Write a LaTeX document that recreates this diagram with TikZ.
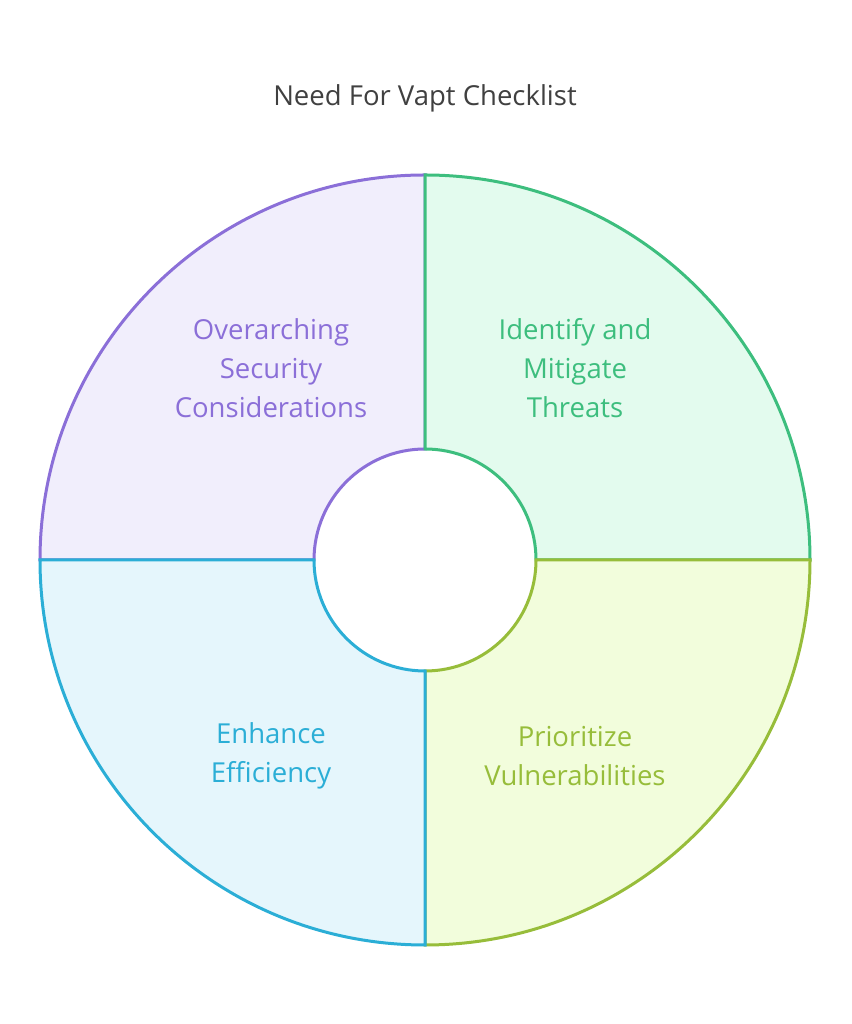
\documentclass[tikz,border=0pt]{standalone}
\usepackage{fontspec}
\setmainfont{Open Sans}
\definecolor{pur}{HTML}{8B6FD8}\definecolor{purf}{HTML}{F1EEFC}
\definecolor{grn}{HTML}{3DBE7E}\definecolor{grnf}{HTML}{E3FBEE}
\definecolor{ylw}{HTML}{97BD3A}\definecolor{ylwf}{HTML}{F2FDDC}
\definecolor{blu}{HTML}{2BAED6}\definecolor{bluf}{HTML}{E5F6FC}
\newcommand{\sector}[4]{%
  \filldraw[fill=#3,draw=#4,line width=3pt]
    ($(c)+(#1:385)$) arc(#1:#2:385) -- ($(c)+(#2:111)$) arc(#2:#1:111) -- cycle;}
\usetikzlibrary{calc}
\begin{document}
\begin{tikzpicture}
  [
   x=1pt,y=1pt,
   lbl/.style={align=center,font=\fontsize{27.5}{39}\selectfont}
  ]
  \useasboundingbox (0,0) rectangle (851,1024);
  \coordinate (c) at (425,464);
  \sector{90}{180}{purf}{pur}
  \sector{0}{90}{grnf}{grn}
  \sector{270}{360}{ylwf}{ylw}
  \sector{180}{270}{bluf}{blu}

  \node[font=\fontsize{27.5}{30}\selectfont,text=black!75] (title) at (425,926) {Need For Vapt Checklist};
  \node[lbl,text=pur] (sec) at (271,656) {Overarching\\Security\\Considerations};
  \node[lbl,text=grn] (thr) at (575,656) {Identify and\\Mitigate\\Threats};
  \node[lbl,text=blu] (eff) at (271,268) {Enhance\\Efficiency};
  \node[lbl,text=ylw] (vul) at (575,268) {Prioritize\\Vulnerabilities};
\end{tikzpicture}
\end{document}
